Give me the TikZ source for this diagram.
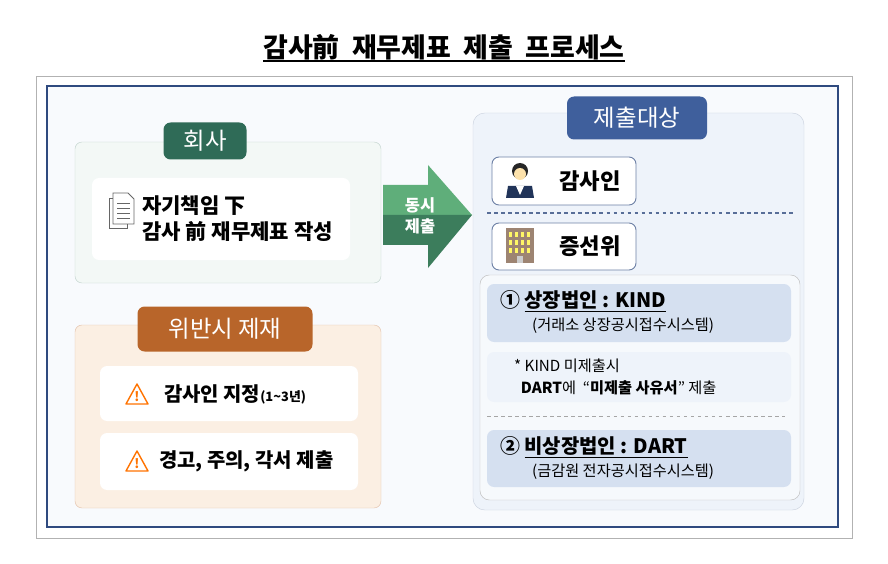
\documentclass[tikz,border=0pt]{standalone}
\usepackage{fontspec}
\setmainfont{Noto Sans CJK KR}
\usetikzlibrary{positioning, calc}
\definecolor{navy}{HTML}{2F4A7F}
\definecolor{dkgreen}{HTML}{2F6B57}
\definecolor{ltgreen}{HTML}{F3F8F6}
\definecolor{brown}{HTML}{B8652A}
\definecolor{peach}{HTML}{FBEFE3}
\definecolor{blutag}{HTML}{3F5F9C}
\definecolor{panel}{HTML}{EEF3FA}
\definecolor{item}{HTML}{D5E0F0}
\definecolor{arrowtop}{HTML}{5FAE7A}
\definecolor{arrowbot}{HTML}{3C7D5C}
\begin{document}
\begin{tikzpicture}[
  x=0.03cm, y=-0.03cm,
  tag/.style={rounded corners=6pt, text=white, font=\fontsize{20}{24}\selectfont, inner sep=0pt},
  card/.style={rounded corners=6pt, fill=white},
  sub/.style={rounded corners=6pt, fill=item},
  who/.style={rounded corners=6pt, fill=white, draw=navy!70, line width=0.8pt}
]
  \useasboundingbox (0,0) rectangle (888,564);
  % Title
  \node (title) at (444,47) {\fontsize{23}{26}\selectfont\bfseries 감사前\ \ 재무제표\ \ 제출\ \ 프로세스};
  \draw[line width=1pt] ($(title.south west)+(4,-3)$) -- ($(title.south east)+(-4,-3)$);
  % Frames
  \draw[gray!60] (36,76) rectangle (852,538);
  \draw[navy, line width=1pt, fill=panel!40] (47,86) rectangle (838,527);

  % Company
  \draw[rounded corners=6pt, draw=dkgreen!30, fill=ltgreen] (75,142) rectangle (381,283);
  \fill[card] (92,178) rectangle (350,260);
  \node[tag, fill=dkgreen, minimum width=83*0.03cm, minimum height=37*0.03cm] (firm) at (205,141) {회사};
  \node[anchor=west, align=left, font=\fontsize{18}{22}\selectfont\bfseries] (write) at (138,219)
    {자기책임 下\\감사 前 재무제표 작성};
  % doc icon
  \draw[gray!80!black, line width=0.7pt, fill=white] (109,198) rectangle (127,228);
  \draw[gray!80!black, line width=0.7pt, fill=white] (113,193) -- (128,193) -- (134,199) -- (134,224) -- (113,224) -- cycle;
  \foreach \yy in {203,208,213,218} \draw[gray!80!black, line width=0.7pt] (117,\yy) -- (130,\yy);

  % Arrow
  \fill[arrowtop] (383,185) -- (428,185) -- (428,165) -- (472,215) -- (383,215) -- cycle;
  \fill[arrowbot] (383,215) -- (472,215) -- (428,268) -- (428,245) -- (383,245) -- cycle;
  \node[text=white, align=center, font=\fontsize{14}{18}\selectfont\bfseries] (both) at (420,216) {동시\\제출};

  % Sanction
  \draw[rounded corners=6pt, draw=brown!40, fill=peach] (75,325) rectangle (381,508);
  \fill[card] (100,366) rectangle (358,421);
  \fill[card] (100,433) rectangle (358,490);
  \node[tag, fill=brown, minimum width=175*0.03cm, minimum height=45*0.03cm] (sanction) at (225,329) {위반시\ 제재};
  \foreach \yy in {394,461} {
    \draw[orange!90!red, line width=1.2pt, line join=round, fill=white] (126,\yy+10) -- (137,\yy-10) -- (148,\yy+10) -- cycle;
    \node[font=\fontsize{11}{11}\selectfont\bfseries, text=orange!90!red] at (137,\yy+3) {!};
  }
  \node[anchor=west, font=\fontsize{17}{20}\selectfont\bfseries] (appoint) at (160,394) {감사인 지정{\fontsize{11}{12}\selectfont(1\textasciitilde3년)}};
  \node[anchor=west, font=\fontsize{17}{20}\selectfont\bfseries] (warn) at (155,461) {경고, 주의, 각서 제출};

  % Right panel
  \draw[rounded corners=10pt, draw=navy!25, fill=panel] (473,113) rectangle (804,510);
  \node[tag, fill=blutag, minimum width=140*0.03cm, minimum height=43*0.03cm] (target) at (637,118) {제출대상};
  \draw[who] (492,157) rectangle (636,205);
  \draw[who] (492,223) rectangle (636,270);
  \node[font=\fontsize{19}{22}\selectfont\bfseries] (auditor) at (590,181) {감사인};
  \node[font=\fontsize{19}{22}\selectfont\bfseries] (sfc) at (590,246) {증선위};
  % person icon
  \fill[black!85] (520,171) circle (8);
  \fill[yellow!30!orange!30] (520,174) circle (6);
  \fill[navy!70!black] (506,198) -- (508,186) -- (532,186) -- (534,198) -- cycle;
  \fill[white] (516,186) -- (520,195) -- (524,186) -- cycle;
  % building icon
  \fill[brown!50!black!60] (506,228) rectangle (534,263);
  \foreach \xx in {509,515,521,527} \foreach \yy in {232,240,248} \fill[yellow!60!white] (\xx,\yy) rectangle ++(3,5);
  \fill[gray!40] (517,256) rectangle (523,263);
  \draw[navy!80, dashed, line width=1.2pt] (487,213) -- (793,213);

  % inner panel
  \draw[rounded corners=8pt, draw=gray!50, fill=panel!50] (480,275) rectangle (800,500);
  \fill[sub] (487,284) rectangle (791,342);
  \fill[rounded corners=6pt, fill=panel] (487,352) rectangle (791,402);
  \draw[gray!70, dashed] (487,416) -- (785,416);
  \fill[sub] (487,430) rectangle (791,487);
  \node[anchor=west, font=\fontsize{17}{20}\selectfont\bfseries] (listed) at (496,301) {① \underline{상장법인 : KIND}};
  \node[anchor=west, font=\fontsize{13}{15}\selectfont] (kind) at (528,326) {(거래소 상장공시접수시스템)};
  \node[anchor=west, align=left, font=\fontsize{13}{19}\selectfont] (note) at (510,377)
    {* KIND 미제출시\\\ \ \textbf{DART}에\ \ “\textbf{미제출 사유서}” 제출};
  \node[anchor=west, font=\fontsize{17}{20}\selectfont\bfseries] (unlisted) at (496,447) {② \underline{비상장법인 : DART}};
  \node[anchor=west, font=\fontsize{13}{15}\selectfont] (dart) at (528,472) {(금감원 전자공시접수시스템)};
\end{tikzpicture}
\end{document}
